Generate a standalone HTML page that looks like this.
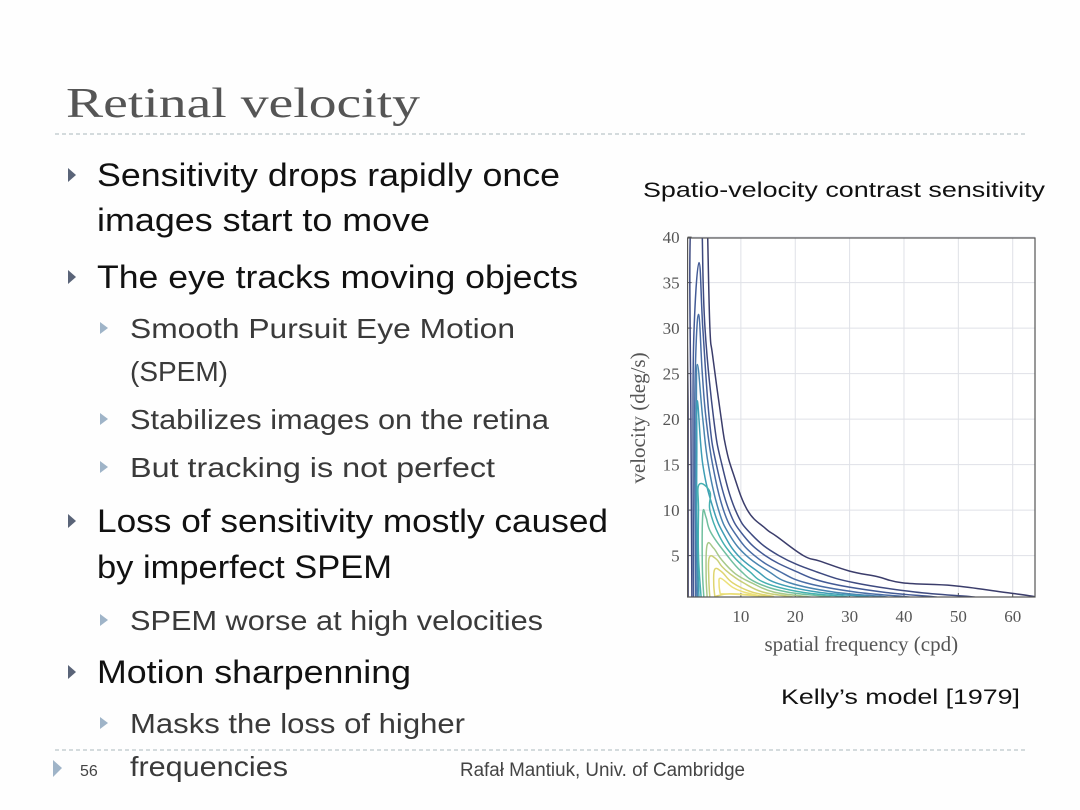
<!DOCTYPE html>
<html><head><meta charset="utf-8"><style>
html,body{margin:0;padding:0;background:#fff}
svg{display:block}
.main{font-family:"Liberation Sans",sans-serif;font-size:32px;fill:#111}
.sub{font-family:"Liberation Sans",sans-serif;font-size:28px;fill:#3a3a3a}
.tick{font-family:"Liberation Serif",serif;font-size:17px;fill:#555}
.axt{font-family:"Liberation Serif",serif;font-size:21px;fill:#555}
</style></head><body>
<svg id="slide" width="1080" height="810" viewBox="0 0 1080 810" xmlns="http://www.w3.org/2000/svg">
<rect width="1080" height="810" fill="#fefefe"/>
<text x="66" y="117" font-family="Liberation Serif,serif" font-size="42" fill="#555" textLength="354" lengthAdjust="spacingAndGlyphs">Retinal velocity</text>
<line x1="55" y1="134" x2="1025" y2="134" stroke="#aab8bc" stroke-dasharray="4,3"/>

<g>
<polygon points="68,168 76,175 68,182" fill="#5a6478"/>
<text class="main" x="97" y="186" textLength="463" lengthAdjust="spacingAndGlyphs">Sensitivity drops rapidly once</text>
<text class="main" x="97" y="231" textLength="333" lengthAdjust="spacingAndGlyphs">images start to move</text>
<polygon points="68,270 76,277 68,284" fill="#5a6478"/>
<text class="main" x="97" y="288" textLength="481" lengthAdjust="spacingAndGlyphs">The eye tracks moving objects</text>
<polygon points="100,322 108,328 100,334" fill="#9fb4c8"/>
<text class="sub" x="130" y="338" textLength="385" lengthAdjust="spacingAndGlyphs">Smooth Pursuit Eye Motion</text>
<text class="sub" x="130" y="381" textLength="98" lengthAdjust="spacingAndGlyphs">(SPEM)</text>
<polygon points="100,413 108,419 100,425" fill="#9fb4c8"/>
<text class="sub" x="130" y="429" textLength="419" lengthAdjust="spacingAndGlyphs">Stabilizes images on the retina</text>
<polygon points="100,461 108,467 100,473" fill="#9fb4c8"/>
<text class="sub" x="130" y="477" textLength="365" lengthAdjust="spacingAndGlyphs">But tracking is not perfect</text>
<polygon points="68,514 76,521 68,528" fill="#5a6478"/>
<text class="main" x="97" y="532" textLength="511" lengthAdjust="spacingAndGlyphs">Loss of sensitivity mostly caused</text>
<text class="main" x="97" y="578" textLength="295" lengthAdjust="spacingAndGlyphs">by imperfect SPEM</text>
<polygon points="100,614 108,620 100,626" fill="#9fb4c8"/>
<text class="sub" x="130" y="630" textLength="413" lengthAdjust="spacingAndGlyphs">SPEM worse at high velocities</text>
<polygon points="68,665 76,672 68,679" fill="#5a6478"/>
<text class="main" x="97" y="683" textLength="314" lengthAdjust="spacingAndGlyphs">Motion sharpenning</text>
<polygon points="100,717 108,723 100,729" fill="#9fb4c8"/>
<text class="sub" x="130" y="733" textLength="335" lengthAdjust="spacingAndGlyphs">Masks the loss of higher</text>
<text class="sub" x="130" y="776" textLength="158" lengthAdjust="spacingAndGlyphs">frequencies</text>
</g>

<line x1="55" y1="750" x2="1025" y2="750" stroke="#aab8bc" stroke-dasharray="4,3"/>
<polygon points="53,760 62,768 53,777" fill="#9fb4c8"/>
<text x="80" y="776" font-family="Liberation Sans,sans-serif" font-size="16" fill="#444">56</text>
<text x="460" y="776" font-family="Liberation Sans,sans-serif" font-size="19" fill="#444" textLength="285" lengthAdjust="spacingAndGlyphs">Rafał Mantiuk, Univ. of Cambridge</text>

<text x="643" y="197" font-family="Liberation Sans,sans-serif" font-size="21" fill="#111" textLength="402" lengthAdjust="spacingAndGlyphs">Spatio-velocity contrast sensitivity</text>
<text x="781" y="704" font-family="Liberation Sans,sans-serif" font-size="21" fill="#111" textLength="239" lengthAdjust="spacingAndGlyphs">Kelly’s model [1979]</text>

<g id="chart"></g>
</svg>
<script>
const xTicks=[10,20,30,40,50,60];
const yTicks=[5,10,15,20,25,30,35,40];
const xLabel="spatial frequency (cpd)";
const yLabel="velocity (deg/s)";
const levelColors=["#3b3d6b","#3e4a80","#435a95","#4a6da5","#4a85b0","#3f9eb5","#45b0b0","#70bf9f","#a7c98a","#c9cf78","#dfd56f","#ece07a"];
const c1=[[0.3,0.4],[0.3,20],[0.3,42],[3.9,42],[3.9,40],[4.3,30],[4.8,27],[6.4,20],[7.2,17],[8.6,14],[11.2,10],[14.5,8],[16.6,7.1],[21.5,5],[24.5,4.4],[30,3.3],[35,2.7],[39.8,2.0],[49,1.7],[58,1],[63.9,0.5],[64.5,0.2]];
const c2=[[1.0,0.3],[0.8,20],[0.8,42],[2.9,42],[2.9,40],[3.4,30],[5.0,20],[6.5,15],[9.0,10],[12,7.3],[17,5],[24,3.2],[31,2],[42,1],[52,0.5],[54,0.3]];
const c3=[[1.3,0.3],[1.2,20],[1.4,30],[2.3,37.2],[3.0,30],[4.2,20],[5.5,15],[7.8,10],[10.5,7.2],[14.5,5],[20,3.3],[26,2],[36,1],[45,0.5],[47,0.3]];
const c4=[[1.7,0.3],[1.5,15],[1.6,25],[2.2,31.5],[2.9,25],[3.6,20],[4.8,15],[6.8,10],[9.2,7.2],[12.5,5],[17,3.3],[22,2],[31,1],[40,0.5],[42,0.3]];
const c5=[[2.0,0.3],[1.7,12],[1.8,20],[2.0,26],[3.0,20],[4.0,15],[5.9,10],[8.0,7.2],[11,5],[15,3.3],[19,2],[27,1],[36,0.5],[38,0.3]];
const c6=[[2.3,0.3],[1.9,8],[1.9,16],[2.0,22],[3.0,15],[5.0,10],[7,7.2],[9.5,5],[13,3.3],[16.5,2],[24,1],[33,0.5],[35,0.3]];
const c7=[[2.7,0.3],[2.2,5],[2.2,10],[2.3,12.8],[4.3,12],[4.3,10],[6,7.2],[8.5,5],[11.5,3.3],[14.5,2],[21,1],[29,0.5],[31,0.3]];
const c8=[[3.2,0.3],[2.9,4],[3.0,9.6],[3.6,9.2],[4.5,7.5],[7.5,5],[10,3.3],[13,2],[18.5,1],[26,0.5],[28,0.3]];
const c9=[[3.8,0.3],[3.6,3],[3.8,6.2],[5,5.8],[6.5,4.5],[9,3],[12,2],[16,1],[22,0.5],[24,0.3]];
const c10=[[4.3,0.3],[4.1,2.5],[4.2,4.8],[5.5,4.6],[6.5,3.8],[8,3],[10.5,2],[14,1],[19,0.5],[21,0.3]];
const c11=[[5.2,0.5],[5.0,2],[5.2,3.5],[6.5,3.2],[8.5,2],[12,1],[16,0.5],[13,0.6],[8,0.8],[5.2,0.5]];
const c12=[[6.2,0.8],[6.0,1.8],[6.3,2.5],[8.5,1.5],[10.5,1],[13,0.6],[9,0.75],[6.2,0.8]];
const contours=[c1,c2,c3,c4,c5,c6,c7,c8,c9,c10,c11,c12];

const NS="http://www.w3.org/2000/svg";
const L=687.6,R=1035,T=238,B=597;
const xMin=0.2,xMax=64.1,yMin=0.45,yMax=39.9;
function sx(v){return L+(v-xMin)/(xMax-xMin)*(R-L);}
function sy(v){return B-(v-yMin)/(yMax-yMin)*(B-T);}
const g=document.getElementById('chart');
function mk(tag,attrs,parent){const e=document.createElementNS(NS,tag);for(const k in attrs)e.setAttribute(k,attrs[k]);(parent||g).appendChild(e);return e;}
function smoothPath(P){
  let d='M'+P[0][0].toFixed(1)+','+P[0][1].toFixed(1);
  for(let i=0;i<P.length-1;i++){
    const p0=P[i-1]||P[i],p1=P[i],p2=P[i+1],p3=P[i+2]||p2;
    const t=0.2;
    const a=[p1[0]+(p2[0]-p0[0])*t,p1[1]+(p2[1]-p0[1])*t];
    const b=[p2[0]-(p3[0]-p1[0])*t,p2[1]-(p3[1]-p1[1])*t];
    d+=' C'+a[0].toFixed(1)+','+a[1].toFixed(1)+' '+b[0].toFixed(1)+','+b[1].toFixed(1)+' '+p2[0].toFixed(1)+','+p2[1].toFixed(1);
  }
  return d;
}

const defs=mk('defs',{});
const cp=mk('clipPath',{id:'plotclip'},defs);
mk('rect',{x:L,y:T,width:R-L,height:B-T},cp);

const bg=mk('rect',{x:L,y:T,width:R-L,height:B-T,fill:'#fff'});



xTicks.forEach(t=>{
  const gl=mk('line',{x1:sx(t),x2:sx(t),y1:T,y2:B,stroke:'#dfe1e7','stroke-width':1});
  
  
  const tk=mk('line',{x1:sx(t),x2:sx(t),y1:B,y2:B-4,stroke:'#555'});
  
  
  const lb=mk('text',{x:sx(t),y:B+25,'text-anchor':'middle',class:'tick'});
  lb.textContent=t;
  
  
});
yTicks.forEach(t=>{
  const gl=mk('line',{x1:L,x2:R,y1:sy(t),y2:sy(t),stroke:'#dfe1e7','stroke-width':1});
  
  
  const tk=mk('line',{x1:L,x2:L+4,y1:sy(t),y2:sy(t),stroke:'#555'});
  
  
  const lb=mk('text',{x:L-8,y:sy(t)+6,'text-anchor':'end',class:'tick'});
  lb.textContent=t;
  
  
});

const cg=mk('g',{'clip-path':'url(#plotclip)'});
contours.forEach((pts,i)=>{
  const P=pts.map(q=>[sx(q[0]),sy(q[1])]);
  const p=mk('path',{d:smoothPath(P),fill:'none',stroke:levelColors[i],'stroke-width':1.5,'stroke-linejoin':'round'},cg);
  
  
});

const frame=mk('rect',{x:L,y:T,width:R-L,height:B-T,fill:'none',stroke:'#555','stroke-width':1.2});



const xt=mk('text',{x:(L+R)/2,y:651,'text-anchor':'middle',class:'axt'});
xt.textContent=xLabel;


const yt=mk('text',{x:0,y:0,'text-anchor':'middle',class:'axt',transform:'translate(645,418) rotate(-90)'});
yt.textContent=yLabel;


</script>
</body></html>
